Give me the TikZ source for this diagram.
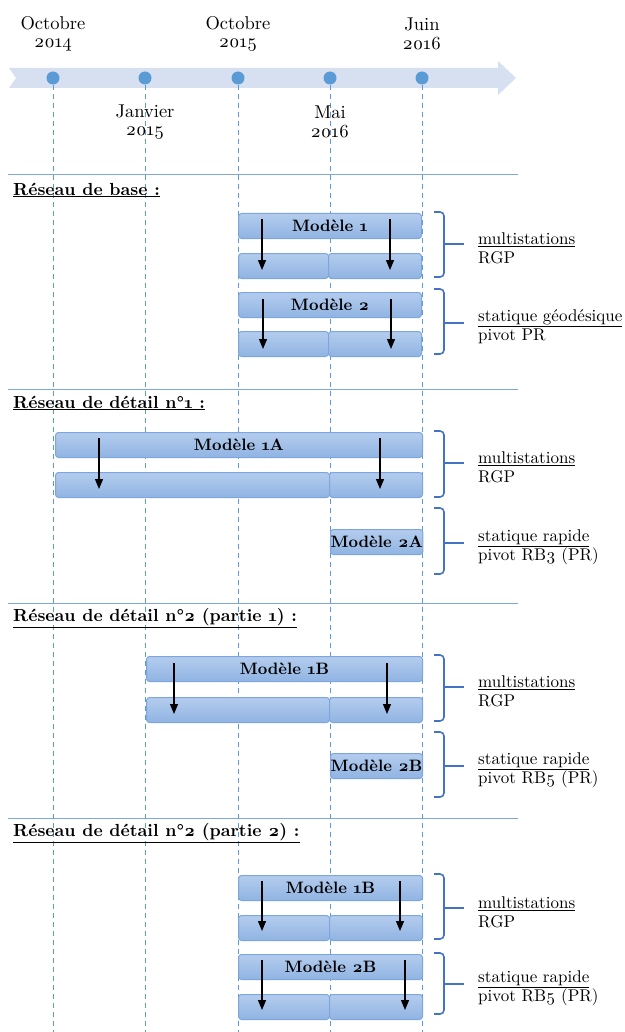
\documentclass[tikz,border=0pt]{standalone}
\usepackage{fontspec}
\setmainfont{lmroman10}[Extension=.otf, UprightFont=*-regular, BoldFont=*-bold, Numbers=OldStyle]
\usetikzlibrary{arrows.meta}
\definecolor{bande}{HTML}{D6E0F1}
\definecolor{point}{HTML}{5B9BD5}
\definecolor{separe}{HTML}{7FA7DA}
\definecolor{crochet}{HTML}{4472C4}
\definecolor{barhaut}{HTML}{B4CDEE}
\definecolor{barbas}{HTML}{90B3E2}
\definecolor{barbord}{HTML}{7CA6DD}

\begin{document}
\begin{tikzpicture}[x=1pt,y=-1pt,>={Triangle[length=10pt,width=8pt]},
        barre/.style={draw=barbord, line width=1pt, rounded corners=3pt, top color=barhaut, bottom color=barbas, minimum height=25pt, inner sep=0pt, anchor=north west, font=\fontsize{16.5}{18}\selectfont\bfseries},
        fleche/.style={->, black, line width=1.2pt},
        date/.style={align=center, font=\fontsize{18.5}{18.5}\selectfont},
        titre/.style={anchor=west, inner sep=0pt, font=\fontsize{17.5}{20}\selectfont\bfseries},
        note/.style={anchor=west, align=left, inner sep=0pt, font=\fontsize{17}{19}\selectfont},
        jalon/.style={circle, fill=point, inner sep=0pt, minimum size=13pt},
        pointille/.style={point, line width=1pt, dash pattern=on 5pt off 4pt},
        crochetbox/.style={crochet, line width=1.6pt, rounded corners=4pt}]
        \useasboundingbox (0,0) rectangle (624,1032);

        \fill[bande] (9,68) -- (498,68) -- (498,61) -- (516,78) -- (498,95) -- (498,88) -- (9,88) -- (16,78) -- cycle;

        \foreach \x/\n in {53/1,145/2,238/3,330/4,422/5} {
            \node[jalon] (d\n) at (\x,78) {};
            \coordinate (b\n) at (\x,1032);
            \draw[pointille] (d\n.south) -- (b\n);
        }

        \node[date] (oct14) at (53,34) {Octobre\\2014};
        \node[date] (jan15) at (145,122) {Janvier\\2015};
        \node[date] (oct15) at (238,34) {Octobre\\2015};
        \node[date] (mai16) at (330,122) {Mai\\2016};
        \node[date] (jun16) at (422,34) {Juin\\2016};

        \foreach \y in {175,389,603,818}
            \draw[separe, line width=1pt] (8,\y) -- (518,\y);

        \node[titre] (base) at (13,190) {\underline{Réseau de base :}};
        \node[titre] (det1) at (13,403) {\underline{Réseau de détail n°1 :}};
        \node[titre] (det2a) at (13,618) {\underline{Réseau de détail n°2 (partie 1) :}};
        \node[titre] (det2b) at (13,833) {\underline{Réseau de détail n°2 (partie 2) :}};

        % reseau de base
        \node[barre, minimum width=183pt] (m1) at (238,213) {Modèle 1};
        \node[barre, minimum width=90pt] (m1g) at (238,253) {};
        \node[barre, minimum width=93pt] (m1d) at (328,253) {};
        \node[barre, minimum width=183pt] (m2) at (238,292) {Modèle 2};
        \node[barre, minimum width=90pt] (m2g) at (238,331) {};
        \node[barre, minimum width=93pt] (m2d) at (328,331) {};
        \draw[fleche] ([shift={(24,6)}]m1.north west) -- ([shift={(24,-9)}]m1g.south west);
        \draw[fleche] ([shift={(-32,6)}]m1.north east) -- ([shift={(-32,-9)}]m1d.south east);
        \draw[fleche] ([shift={(25,7)}]m2.north west) -- ([shift={(25,-8)}]m2g.south west);
        \draw[fleche] ([shift={(-31,7)}]m2.north east) -- ([shift={(-31,-8)}]m2d.south east);

        % reseau de detail 1
        \node[barre, minimum width=367pt] (m1A) at (55,432) {Modèle 1A};
        \node[barre, minimum width=274pt] (m1Ag) at (55,472) {};
        \node[barre, minimum width=93pt] (m1Ad) at (329,472) {};
        \node[barre, minimum width=92pt] (m2A) at (330,529) {Modèle 2A};
        \draw[fleche] ([shift={(44,6)}]m1A.north west) -- ([shift={(44,-9)}]m1Ag.south west);
        \draw[fleche] ([shift={(-43,6)}]m1A.north east) -- ([shift={(-43,-9)}]m1Ad.south east);

        % reseau de detail 2, partie 1
        \node[barre, minimum width=276pt] (m1B) at (146,656) {Modèle 1B};
        \node[barre, minimum width=183pt] (m1Bg) at (146,697) {};
        \node[barre, minimum width=93pt] (m1Bd) at (329,697) {};
        \node[barre, minimum width=92pt] (m2B) at (330,753) {Modèle 2B};
        \draw[fleche] ([shift={(28,7)}]m1B.north west) -- ([shift={(28,-9)}]m1Bg.south west);
        \draw[fleche] ([shift={(-36,7)}]m1B.north east) -- ([shift={(-36,-9)}]m1Bd.south east);

        % reseau de detail 2, partie 2
        \node[barre, minimum width=184pt] (n1B) at (238,875) {Modèle 1B};
        \node[barre, minimum width=91pt] (n1Bg) at (238,915) {};
        \node[barre, minimum width=93pt] (n1Bd) at (329,915) {};
        \node[barre, minimum width=184pt] (n2B) at (238,954) {Modèle 2B};
        \node[barre, minimum width=91pt] (n2Bg) at (238,994) {};
        \node[barre, minimum width=93pt] (n2Bd) at (329,994) {};
        \draw[fleche] ([shift={(24,6)}]n1B.north west) -- ([shift={(24,-10)}]n1Bg.south west);
        \draw[fleche] ([shift={(-23,6)}]n1B.north east) -- ([shift={(-23,-10)}]n1Bd.south east);
        \draw[fleche] ([shift={(24,6)}]n2B.north west) -- ([shift={(24,-10)}]n2Bg.south west);
        \draw[fleche] ([shift={(-18,6)}]n2B.north east) -- ([shift={(-18,-10)}]n2Bd.south east);

        % crochets
        \foreach \h/\b/\m in {212/277/244,289/354/323,431/497/463,508/574/543,655/721/687,732/797/766,874/939/908,953/1014/984} {
            \draw[crochetbox] (434,\h) -- (444,\h) -- (444,\b) -- (434,\b);
            \draw[crochetbox] (444,\m) -- (464,\m);
        }

        \node[note] (t1) at (478,248) {\underline{multistations}\\RGP};
        \node[note] (t2) at (478,327) {\underline{statique géodésique}\\pivot PR};
        \node[note] (t3) at (478,467) {\underline{multistations}\\RGP};
        \node[note] (t4) at (478,547) {\underline{statique rapide}\\pivot RB3 (PR)};
        \node[note] (t5) at (478,691) {\underline{multistations}\\RGP};
        \node[note] (t6) at (478,770) {\underline{statique rapide}\\pivot RB5 (PR)};
        \node[note] (t7) at (478,912) {\underline{multistations}\\RGP};
        \node[note] (t8) at (478,988) {\underline{statique rapide}\\pivot RB5 (PR)};
\end{tikzpicture}
\end{document}
